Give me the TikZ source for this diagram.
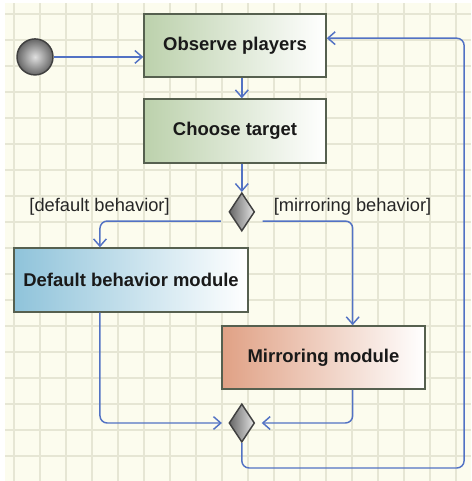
\documentclass[tikz,border=0pt]{standalone}
\usepackage{fontspec}
\setmainfont{Liberation Sans}
\usetikzlibrary{shapes.geometric,arrows.meta}
\definecolor{gridbg}{HTML}{FCFCEE}
\definecolor{gridln}{HTML}{E6E6D4}
\definecolor{flowblue}{HTML}{5272C4}
\definecolor{boxedge}{HTML}{56604F}
\definecolor{obsgreen}{HTML}{BCD1AC}
\definecolor{dfltblue}{HTML}{8FC3DA}
\definecolor{mirrsalmon}{HTML}{E0A185}
\tikzset{
	activity/.style={draw=boxedge,line width=0.8pt,left color=#1,right color=white,font=\fontsize{10.1}{12}\selectfont\bfseries,text=black!90,inner sep=0pt},
	choice/.style={diamond,draw=black!75,line width=0.8pt,left color=black!60,right color=black!10,inner sep=0pt,minimum width=14pt,minimum height=21pt},
	flow/.style={draw=flowblue,line width=0.8pt,rounded corners=4pt,-{Straight Barb[length=4pt,width=7pt]}},
	guard/.style={font=\fontsize{10}{12}\selectfont,text=black!85}
}
\begin{document}
\begin{tikzpicture}[scale=0.5]
		\useasboundingbox (0,0) rectangle (18.115,18.5);
		\fill[gridbg] (0.19,0) rectangle (18.115,18.38);
		\foreach \x in {0,...,17}
			\draw[gridln,line width=0.6pt] (0.538+\x,0) -- (0.538+\x,18.38);
		\foreach \y in {0,...,17}
			\draw[gridln,line width=0.6pt] (0.19,17.96-\y) -- (18.115,17.96-\y);

		\node[circle,draw=black!75,line width=0.8pt,inner color=black!12,outer color=black!60,minimum size=19.7pt,inner sep=0pt] (start) at (1.346,16.31) {};
		\node[activity=obsgreen,minimum width=99.6pt,minimum height=34.5pt] (obs) at (9.04,16.75) {Observe players};
		\node[activity=obsgreen,minimum width=99.6pt,minimum height=35pt] (choose) at (9.04,13.46) {Choose target};
		\node[choice] (d1) at (9.3,10.35) {};
		\node[guard] (dfltlbl) at (3.83,10.54) {[default behavior]};
		\node[guard] (mirrlbl) at (13.56,10.54) {[mirroring behavior]};
		\node[activity=dfltblue,minimum width=128pt,minimum height=35pt] (dflt) at (5.04,7.73) {Default behavior module};
		\node[activity=mirrsalmon,minimum width=111pt,minimum height=34.5pt] (mirr) at (12.44,4.75) {Mirroring module};
		\node[choice] (d2) at (9.3,2.23) {};
		\coordinate (loop) at (17.85,0.5);

		\draw[flow] (start.east) -- (start.east -| obs.west);
		\draw[flow] (obs.south -| d1) -- (choose.north -| d1);
		\draw[flow] (choose.south -| d1) -- (d1.north);
		\draw[flow] ([xshift=-8pt,yshift=-10pt]d1.west) -| ([xshift=-34pt]dflt.north);
		\draw[flow] ([xshift=8pt,yshift=-10pt]d1.east) -| ([xshift=32pt]mirr.north);
		\draw[flow] ([xshift=-34pt]dflt.south) |- ([xshift=-7pt]d2.west);
		\draw[flow] ([xshift=32pt]mirr.south) |- ([xshift=7pt]d2.east);
		\draw[flow] (d2.south) |- (loop) |- ([yshift=8pt]obs.east);

	\end{tikzpicture}
\end{document}
